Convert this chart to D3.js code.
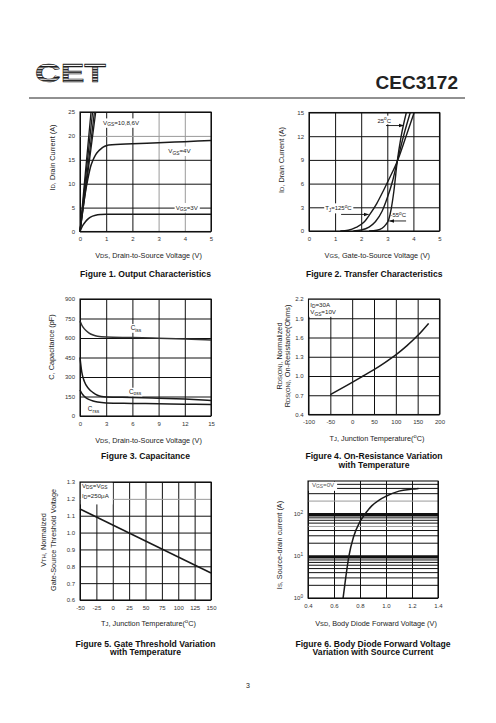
<!DOCTYPE html>
<html><head><meta charset="utf-8">
<script src="https://cdn.jsdelivr.net/npm/d3@7"></script>
<style>
body{margin:0;background:#fff}
svg{display:block}
text{font-family:"Liberation Sans",Arial,Helvetica,sans-serif;fill:#222}
.tick text{font-size:6px;fill:#333}
.cap{font-family:"Liberation Sans Narrow","Arial Narrow","Liberation Sans",sans-serif;font-weight:bold;font-size:8.6px;fill:#111}
</style></head><body>
<svg id="page" width="496" height="723"></svg>
<script>
// ===================== DATA =====================
// Figure 1: Output characteristics (VDS [V], ID [A])
const f1XTicks=[0,1,2,3,4,5];
const f1YTicks=[0,5,10,15,20,25];
const f1Vgs10=[[0,0],[0.2,12],[0.42,25]];
const f1Vgs8=[[0,0],[0.22,11.5],[0.48,25]];
const f1Vgs6=[[0,0],[0.25,11.2],[0.55,25]];
const f1Vgs5=[[0,0],[0.27,11],[0.6,25]];
const f1Vgs4=[[0,0],[0.1,4.2],[0.2,8],[0.3,11],[0.4,13.5],[0.5,15],[0.6,16.1],[0.7,16.8],[0.8,17.3],[0.9,17.7],[1.0,17.95],[1.1,18.1],[2,18.35],[3,18.55],[4,18.8],[5,19.05]];
const f1Vgs3=[[0,0],[0.1,1.2],[0.2,2],[0.3,2.6],[0.4,3],[0.6,3.4],[0.8,3.55],[1,3.6],[5,3.6]];

// Figure 2: Transfer characteristics (VGS [V], ID [A])
const f2XTicks=[0,1,2,3,4,5];
const f2YTicks=[0,3,6,9,12,15];
const f2T125=[[1.2,0],[1.5,0.1],[1.8,0.45],[2.1,1.1],[2.33,2.1],[2.6,3.5],[2.85,5.1],[3.1,6.8],[3.38,8.8],[3.7,11.8],[4.03,15]];
const f2T25=[[1.7,0],[2.0,0.12],[2.3,0.5],[2.55,1.2],[2.8,2.5],[3.0,4.2],[3.2,6.3],[3.38,8.8],[3.62,12],[3.88,15]];
const f2Tm55=[[2.3,0],[2.6,0.1],[2.8,0.35],[2.95,0.85],[3.05,1.4],[3.15,2.8],[3.25,5],[3.38,8.8],[3.52,11.8],[3.73,15]];

// Figure 3: Capacitance (VDS [V], C [pF])
const f3XTicks=[0,3,6,9,12,15];
const f3YTicks=[0,150,300,450,600,750,900];
const f3Ciss=[[0,730],[0.2,700],[0.5,670],[1,640],[1.5,623],[2,613],[3,607],[6,603],[9,598],[12,592],[15,584]];
const f3Coss=[[0,450],[0.2,340],[0.5,265],[1,210],[1.5,180],[2,160],[2.5,150],[3,147],[6,143],[9,137],[12,130],[15,120]];
const f3Crss=[[0,200],[0.3,165],[0.7,140],[1,128],[1.5,115],[2,107],[3,100],[6,97],[9,94],[12,91],[15,89]];

// Figure 4: On-resistance vs temperature (TJ [°C], RDS(ON) normalized)
const f4XTicks=[-100,-50,0,50,100,150,200];
const f4YTicks=[0.4,0.7,1.0,1.3,1.6,1.9,2.2];
const f4Rds=[[-50,0.71],[0,0.9],[25,1.0],[50,1.1],[75,1.21],[100,1.33],[125,1.47],[150,1.63],[175,1.82]];

// Figure 5: Gate threshold vs temperature (TJ [°C], VTH normalized)
const f5XTicks=[-50,-25,0,25,50,75,100,125,150];
const f5YTicks=[0.6,0.7,0.8,0.9,1.0,1.1,1.2,1.3];
const f5Vth=[[-50,1.14],[150,0.76]];

// Figure 6: Body diode forward voltage (VSD [V], IS [A], log)
const f6XTicks=[0.4,0.6,0.8,1.0,1.2,1.4];
const f6YMajor=[1,10,100];
const f6YMinor=[2,3,4,5,6,7,8,9,20,30,40,50,60,70,80,90,200,300,400,500];
const f6Is=[[0.67,1],[0.69,3],[0.715,10],[0.75,28],[0.8,65],[0.85,110],[0.89,154],[0.95,215],[1.0,260],[1.1,345],[1.2,385],[1.25,400]];

// ===================== DRAW =====================
const svg=d3.select('#page');
const defs=svg.append('defs');
const pat=defs.append('pattern').attr('id','stripes').attr('patternUnits','userSpaceOnUse').attr('width',4).attr('height',2.75);
pat.append('rect').attr('width',4).attr('height',1.6).attr('fill','#1a1a1a');
defs.append('marker').attr('id','arr').attr('viewBox','0 0 10 10').attr('refX',9).attr('refY',5)
  .attr('markerWidth',6).attr('markerHeight',6).attr('orient','auto-start-reverse')
  .append('path').attr('d','M0,1.5 L10,5 L0,8.5 Z').attr('fill','#111');

// header
svg.append('text').attr('x',35).attr('y',82).attr('font-size',26).attr('font-weight','bold')
  .attr('textLength',71).attr('lengthAdjust','spacingAndGlyphs').style('fill','url(#stripes)')
  .style('stroke','#1a1a1a').style('stroke-width',0.5).text('CET');
svg.append('text').attr('x',458).attr('y',89).attr('text-anchor','end').attr('font-size',19).attr('font-weight','bold')
  .style('fill','#222').text('CEC3172');
svg.append('line').attr('x1',29).attr('x2',465).attr('y1',98).attr('y2',98).attr('stroke','#222').attr('stroke-width',1);
svg.append('text').attr('x',248).attr('y',688).attr('text-anchor','middle').attr('font-size',7).text('3');

function rich(t,segs,sh){
  sh=sh||1.4;let off=0;
  segs.forEach(s=>{
    const o=typeof s==='string'?{s:s,k:'n'}:s;
    const target=o.k==='sub'?sh:(o.k==='sup'?-2.6:0);
    const ts=t.append('tspan').text(o.s);
    if(target-off!==0) ts.attr('dy',target-off);
    if(o.k!=='n') ts.attr('font-size',o.k==='small'?'0.8em':'0.78em');
    off=target;
  });
  return t;
}
function boxLabel(g,x,y,segs,fs,pad){
  const t=g.append('text').attr('x',x).attr('y',y).attr('font-size',fs||6.2);
  rich(t,segs);
  const bb=t.node().getBBox();pad=pad||[1,0.5];
  g.insert('rect',()=>t.node()).attr('x',bb.x-pad[0]).attr('y',bb.y-pad[1])
    .attr('width',bb.width+2*pad[0]).attr('height',bb.height+2*pad[1]).attr('fill','#fff');
  return t;
}

function panel(o){
  const g=svg.append('g');
  const x=d3.scaleLinear().domain(o.xd).range([o.l,o.r]);
  const y=(o.log?d3.scaleLog():d3.scaleLinear()).domain(o.yd).range([o.b,o.t]);
  const h=o.b-o.t,w=o.r-o.l;
  const gx=g.append('g').attr('transform',`translate(0,${o.b})`)
    .call(d3.axisBottom(x).tickValues(o.xt).tickSize(-h).tickPadding(5.5).tickFormat(o.xf||(d=>d)));
  const gy=g.append('g').attr('transform',`translate(${o.l},0)`)
    .call(d3.axisLeft(y).tickValues(o.yt).tickSize(-w).tickPadding(5).tickFormat(o.yf||(d=>d)));
  [gx,gy].forEach(a=>{a.select('.domain').remove();a.selectAll('.tick line').attr('stroke','#111').attr('stroke-width',1);});
  gx.selectAll('.tick line').attr('stroke',d=>(o.grayX&&o.grayX.includes(d))?'#9a9a9a':'#111');
  gy.selectAll('.tick line').attr('stroke',d=>(o.grayY&&o.grayY.includes(d))?'#9a9a9a':'#111');
  const labels=g.append('g');
  const curves=g.append('g');
  g.append('rect').attr('x',o.l).attr('y',o.t).attr('width',w).attr('height',h)
    .attr('fill','none').attr('stroke','#111').attr('stroke-width',1.1);
  // titles
  const xt=g.append('text').attr('x',o.xtx||(o.l+o.r)/2+3).attr('y',o.xty).attr('text-anchor','middle').attr('font-size',7.3);
  rich(xt,o.xtitle);
  o.ytitle.forEach((segs,i)=>{
    const t=g.append('text').attr('transform',`translate(${o.ytx[i]},${o.yty}) rotate(-90)`).attr('text-anchor','middle').attr('font-size',7.3);
    rich(t,segs);
  });
  o.cap.forEach((c,i)=>{
    g.append('text').attr('class','cap').attr('x',(o.l+o.r)/2).attr('y',o.capy+i*8.6).attr('text-anchor','middle').text(c);
  });
  return {g,x,y,labels,curves,gx,gy};
}
function curve(p,data,opt){
  opt=opt||{};
  const line=d3.line().x(d=>p.x(d[0])).y(d=>p.y(d[1])).curve(opt.linear?d3.curveLinear:d3.curveMonotoneX);
  p.curves.append('path').datum(data).attr('d',line).attr('fill','none')
    .attr('stroke',opt.color||'#1a1a1a').attr('stroke-width',opt.sw||1.5);
}
function arrow(p,x1,y1,x2,y2){
  p.labels.append('line').attr('x1',p.x(x1)).attr('y1',p.y(y1)).attr('x2',p.x(x2)).attr('y2',p.y(y2))
    .attr('stroke','#111').attr('stroke-width',0.9).attr('marker-end','url(#arr)');
}

// ---------- Figure 1
const p1=panel({l:80,r:211,t:112,b:231.5,xd:[0,5],yd:[0,25],xt:f1XTicks,yt:f1YTicks,grayX:[3,4],grayY:[20],
  xtitle:['V',{s:'DS',k:'small'},', Drain-to-Source Voltage (V)'],xty:257.5,
  ytitle:[['I',{s:'D',k:'small'},', Drain Current (A)']],ytx:[55],yty:157.5,
  cap:['Figure 1. Output Characteristics'],capy:276.5});
boxLabel(p1.labels,p1.x(0.88),p1.y(22.3),['V',{s:'GS',k:'sub'},'=10,8,6V']);
boxLabel(p1.labels,p1.x(3.37),p1.y(16.4),['V',{s:'GS',k:'sub'},'=4V']);
boxLabel(p1.labels,p1.x(3.65),p1.y(4.6),['V',{s:'GS',k:'sub'},'=3V']);
[f1Vgs10,f1Vgs8,f1Vgs6,f1Vgs5].forEach(d=>curve(p1,d,{sw:1.3}));
curve(p1,f1Vgs4);curve(p1,f1Vgs3);

// ---------- Figure 2
const p2=panel({l:309,r:439.5,t:112.5,b:231,xd:[0,5],yd:[0,15],xt:f2XTicks,yt:f2YTicks,
  xtitle:['V',{s:'GS',k:'small'},', Gate-to-Source Voltage (V)'],xty:257.5,
  ytitle:[['I',{s:'D',k:'small'},', Drain Current (A)']],ytx:[284],yty:160,
  cap:['Figure 2. Transfer Characteristics'],capy:276.5});
boxLabel(p2.labels,p2.x(2.62),p2.y(13.7),['25',{s:'o',k:'sup'},{s:'C',k:'n'}],6);
arrow(p2,2.95,13.35,3.62,13.35);
boxLabel(p2.labels,p2.x(0.62),p2.y(2.6),['T',{s:'J',k:'sub'},'=125',{s:'o',k:'sup'},{s:'C',k:'n'}],6);
arrow(p2,1.23,2.1,2.28,2.1);
boxLabel(p2.labels,p2.x(3.12),p2.y(1.75),['-55',{s:'o',k:'sup'},{s:'C',k:'n'}],6);
arrow(p2,3.72,1.27,3.08,1.27);
curve(p2,f2T125,{sw:1.4});curve(p2,f2T25,{sw:1.4});curve(p2,f2Tm55,{sw:1.4});

// ---------- Figure 3
const p3=panel({l:80,r:211,t:299,b:416,xd:[0,15],yd:[0,900],xt:f3XTicks,yt:f3YTicks,
  xtitle:['V',{s:'DS',k:'small'},', Drain-to-Source Voltage (V)'],xty:442.5,
  ytitle:[['C, Capacitance (pF)']],ytx:[54],yty:347,
  cap:['Figure 3. Capacitance'],capy:459});
boxLabel(p3.labels,p3.x(5.8),p3.y(660),['C',{s:'iss',k:'sub'}],6.4,[0.5,0.2]);
boxLabel(p3.labels,p3.x(5.6),p3.y(170),['C',{s:'oss',k:'sub'}],6.4,[0.5,0.2]);
boxLabel(p3.labels,p3.x(0.9),p3.y(35),['C',{s:'rss',k:'sub'}],6.4,[0.5,0.2]);
curve(p3,f3Ciss,{color:'#333'});curve(p3,f3Coss);curve(p3,f3Crss);

// ---------- Figure 4
const p4=panel({l:308.5,r:439.5,t:299,b:414.5,xd:[-100,200],yd:[0.4,2.2],xt:f4XTicks,yt:f4YTicks,
  xf:d=>d,yf:d3.format('.1f'),
  xtitle:['T',{s:'J',k:'small'},', Junction Temperature(',{s:'o',k:'sup'},{s:'C)',k:'n'}],xty:441,
  ytitle:[['R',{s:'DS(ON)',k:'small'},', Normalized'],['R',{s:'DS(ON)',k:'small'},', On-Resistance(Ohms)']],ytx:[281.5,290],yty:356,
  cap:['Figure 4. On-Resistance Variation','with Temperature'],capy:459});
p4.labels.append('rect').attr('x',p4.x(-100)+0.5).attr('y',p4.y(2.2)+0.5).attr('width',p4.x(-29)-p4.x(-100)).attr('height',p4.y(1.93)-p4.y(2.2)).attr('fill','#fff');
rich(p4.labels.append('text').attr('x',p4.x(-96)).attr('y',p4.y(2.08)).attr('font-size',6.2),['I',{s:'D',k:'sub'},'=30A']);
rich(p4.labels.append('text').attr('x',p4.x(-96)).attr('y',p4.y(1.96)).attr('font-size',6.2),['V',{s:'GS',k:'sub'},'=10V']);
curve(p4,f4Rds);

// ---------- Figure 5
const p5=panel({l:80,r:211,t:482,b:600,xd:[-50,150],yd:[0.6,1.3],xt:f5XTicks,yt:f5YTicks,grayY:[1.2],
  yf:d3.format('.1f'),
  xtitle:['T',{s:'J',k:'small'},', Junction Temperature(',{s:'o',k:'sup'},{s:'C)',k:'n'}],xty:626,
  ytitle:[['V',{s:'TH',k:'small'},', Normalized'],['Gate-Source Threshold Voltage']],ytx:[46,55.5],yty:540,
  cap:['Figure 5. Gate Threshold Variation','with Temperature'],capy:646.5});
p5.labels.append('rect').attr('x',p5.x(-50)+0.5).attr('y',p5.y(1.3)+0.5).attr('width',p5.x(-1)-p5.x(-50)).attr('height',p5.y(1.17)-p5.y(1.3)).attr('fill','#fff');
rich(p5.labels.append('text').attr('x',p5.x(-47)).attr('y',p5.y(1.265)).attr('font-size',6.2),['V',{s:'DS',k:'sub'},'=V',{s:'GS',k:'sub'}]);
rich(p5.labels.append('text').attr('x',p5.x(-47)).attr('y',p5.y(1.205)).attr('font-size',6.2),['I',{s:'D',k:'sub'},'=250μA']);
curve(p5,f5Vth,{linear:true});

// ---------- Figure 6
const p6=panel({l:308,r:438,t:481,b:598,log:true,xd:[0.4,1.4],yd:[1,600],xt:f6XTicks,yt:f6YMajor,
  xf:d3.format('.1f'),yf:()=>'',
  xtitle:['V',{s:'SD',k:'small'},', Body Diode Forward Voltage (V)'],xty:626,
  ytitle:[['I',{s:'S',k:'small'},', Source-drain current (A)']],ytx:[282],yty:545,
  cap:['Figure 6. Body Diode Forward Voltage','Variation with Source Current'],capy:646.5});
p6.gy.selectAll('.tick line').attr('stroke-width',2.4);
p6.gy.selectAll('.tick').filter(d=>d===1).select('line').attr('stroke-width',1);
p6.gy.selectAll('.tick text').remove();
p6.gy.selectAll('.tick').each(function(d){
  const t=d3.select(this).append('text').attr('x',-5).attr('dy','0.32em').attr('text-anchor','end').style('font-size','6px');
  rich(t,['10',{s:String(Math.round(Math.log10(d))),k:'sup'}]);
});
const grayMinor=[50,200];
p6.gy.insert('g',':first-child').selectAll('line').data(f6YMinor).join('line')
  .attr('x1',0).attr('x2',p6.x(1.4)-p6.x(0.4)).attr('y1',d=>p6.y(d)).attr('y2',d=>p6.y(d))
  .attr('stroke',d=>grayMinor.includes(d)?'#999':'#111').attr('stroke-width',d=>(d===90||d===9)?1.4:1);
p6.labels.append('rect').attr('x',p6.x(0.4)+0.5).attr('y',p6.y(600)+0.5).attr('width',p6.x(0.62)-p6.x(0.4)).attr('height',p6.y(360)-p6.y(600)).attr('fill','#fff');
rich(p6.labels.append('text').attr('x',p6.x(0.43)).attr('y',p6.y(430)).attr('font-size',6.2).style('fill','#555'),['V',{s:'GS',k:'sub'},'=0V']);
curve(p6,f6Is);
</script>
</body></html>
